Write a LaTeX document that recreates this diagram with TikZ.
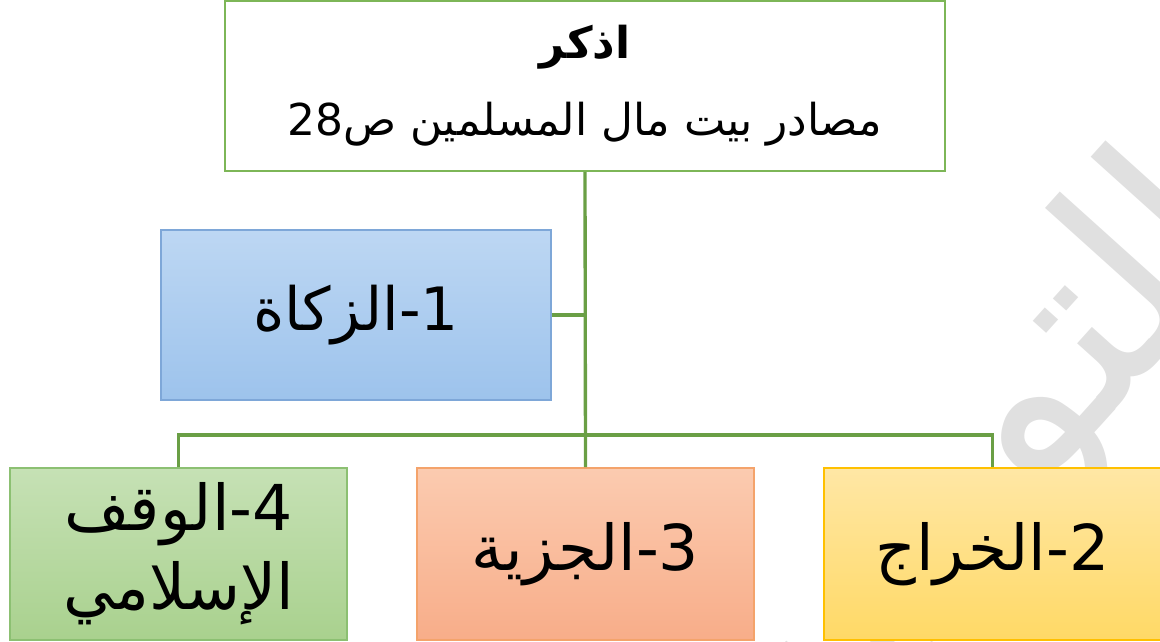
\documentclass[tikz,border=0pt]{standalone}
\usepackage{fontspec}
\usepackage{xcolor}
\usepackage{tikz}
\usetikzlibrary{positioning,calc}
\newfontfamily\arabicfont[Script=Arabic]{DejaVu Sans}
\TeXXeTstate=1

\definecolor{linegreen}{HTML}{6A9F45}
\definecolor{topgreen}{HTML}{7DB657}

\begin{document}
\begin{tikzpicture}[
    x=0.02cm, y=-0.02cm,
    box/.style={rectangle, draw, line width=1.1pt, inner sep=0pt, align=center, text=black},
    topbox/.style={box, draw=topgreen, fill=white, minimum width=14.4cm, minimum height=3.4cm,
        font=\arabicfont\fontsize{25}{44}\selectfont},
    itembox/.style={box, minimum width=6.74cm, minimum height=3.44cm,
        font=\arabicfont\fontsize{36}{45}\selectfont},
    link/.style={draw=linegreen, line width=1.9pt},
    watermark/.style={rotate=48, text=black!12, font=\arabicfont\fontsize{140}{140}\selectfont}
]
    \useasboundingbox (0,0) rectangle (1160,642);
    \clip (0,0) rectangle (1160,642);

    % Watermark
    \node[watermark] (wm) at (978,468) {\beginR التوجيه\endR};

    % Top box
    \node[topbox] (top) at (585,86) {{\bfseries\beginR اذكر\endR}\\\beginR مصادر بيت مال المسلمين ص28\endR};

    % Zakat
    \node[itembox, minimum width=7.8cm, minimum height=3.4cm, draw={rgb,255:red,126;green,167;blue,216},
        top color={rgb,255:red,189;green,215;blue,243}, bottom color={rgb,255:red,157;green,195;blue,236},
        font=\arabicfont\fontsize{34}{44}\selectfont] (zakat) at (356,315) {\beginR 1-الزكاة\endR};

    % Waqf
    \node[itembox, draw={rgb,255:red,140;green,192;blue,114},
        top color={rgb,255:red,198;green,225;blue,181}, bottom color={rgb,255:red,169;green,209;blue,142}]
        (waqf) at (178.5,554) {\beginR 4-الوقف\endR\\\beginR الإسلامي\endR};

    % Jizya
    \node[itembox, draw={rgb,255:red,244;green,163;blue,107},
        top color={rgb,255:red,251;green,203;blue,176}, bottom color={rgb,255:red,248;green,173;blue,137}]
        (jizya) at (585.5,554) {\beginR 3-الجزية\endR};

    % Kharaj
    \node[itembox, draw={rgb,255:red,255;green,192;blue,0},
        top color={rgb,255:red,255;green,231;blue,165}, bottom color={rgb,255:red,255;green,217;blue,102}]
        (kharaj) at (992.5,554) {\beginR 2-الخراج\endR};

    % Connectors
    \coordinate (bus) at (585,435);
    \draw[link] (top.south) -- (jizya.north);
    \draw[link] (zakat.east) -- (zakat.east -| top.south);
    \draw[link] (waqf.north) |- (bus) -| (kharaj.north);

\end{tikzpicture}
\end{document}
